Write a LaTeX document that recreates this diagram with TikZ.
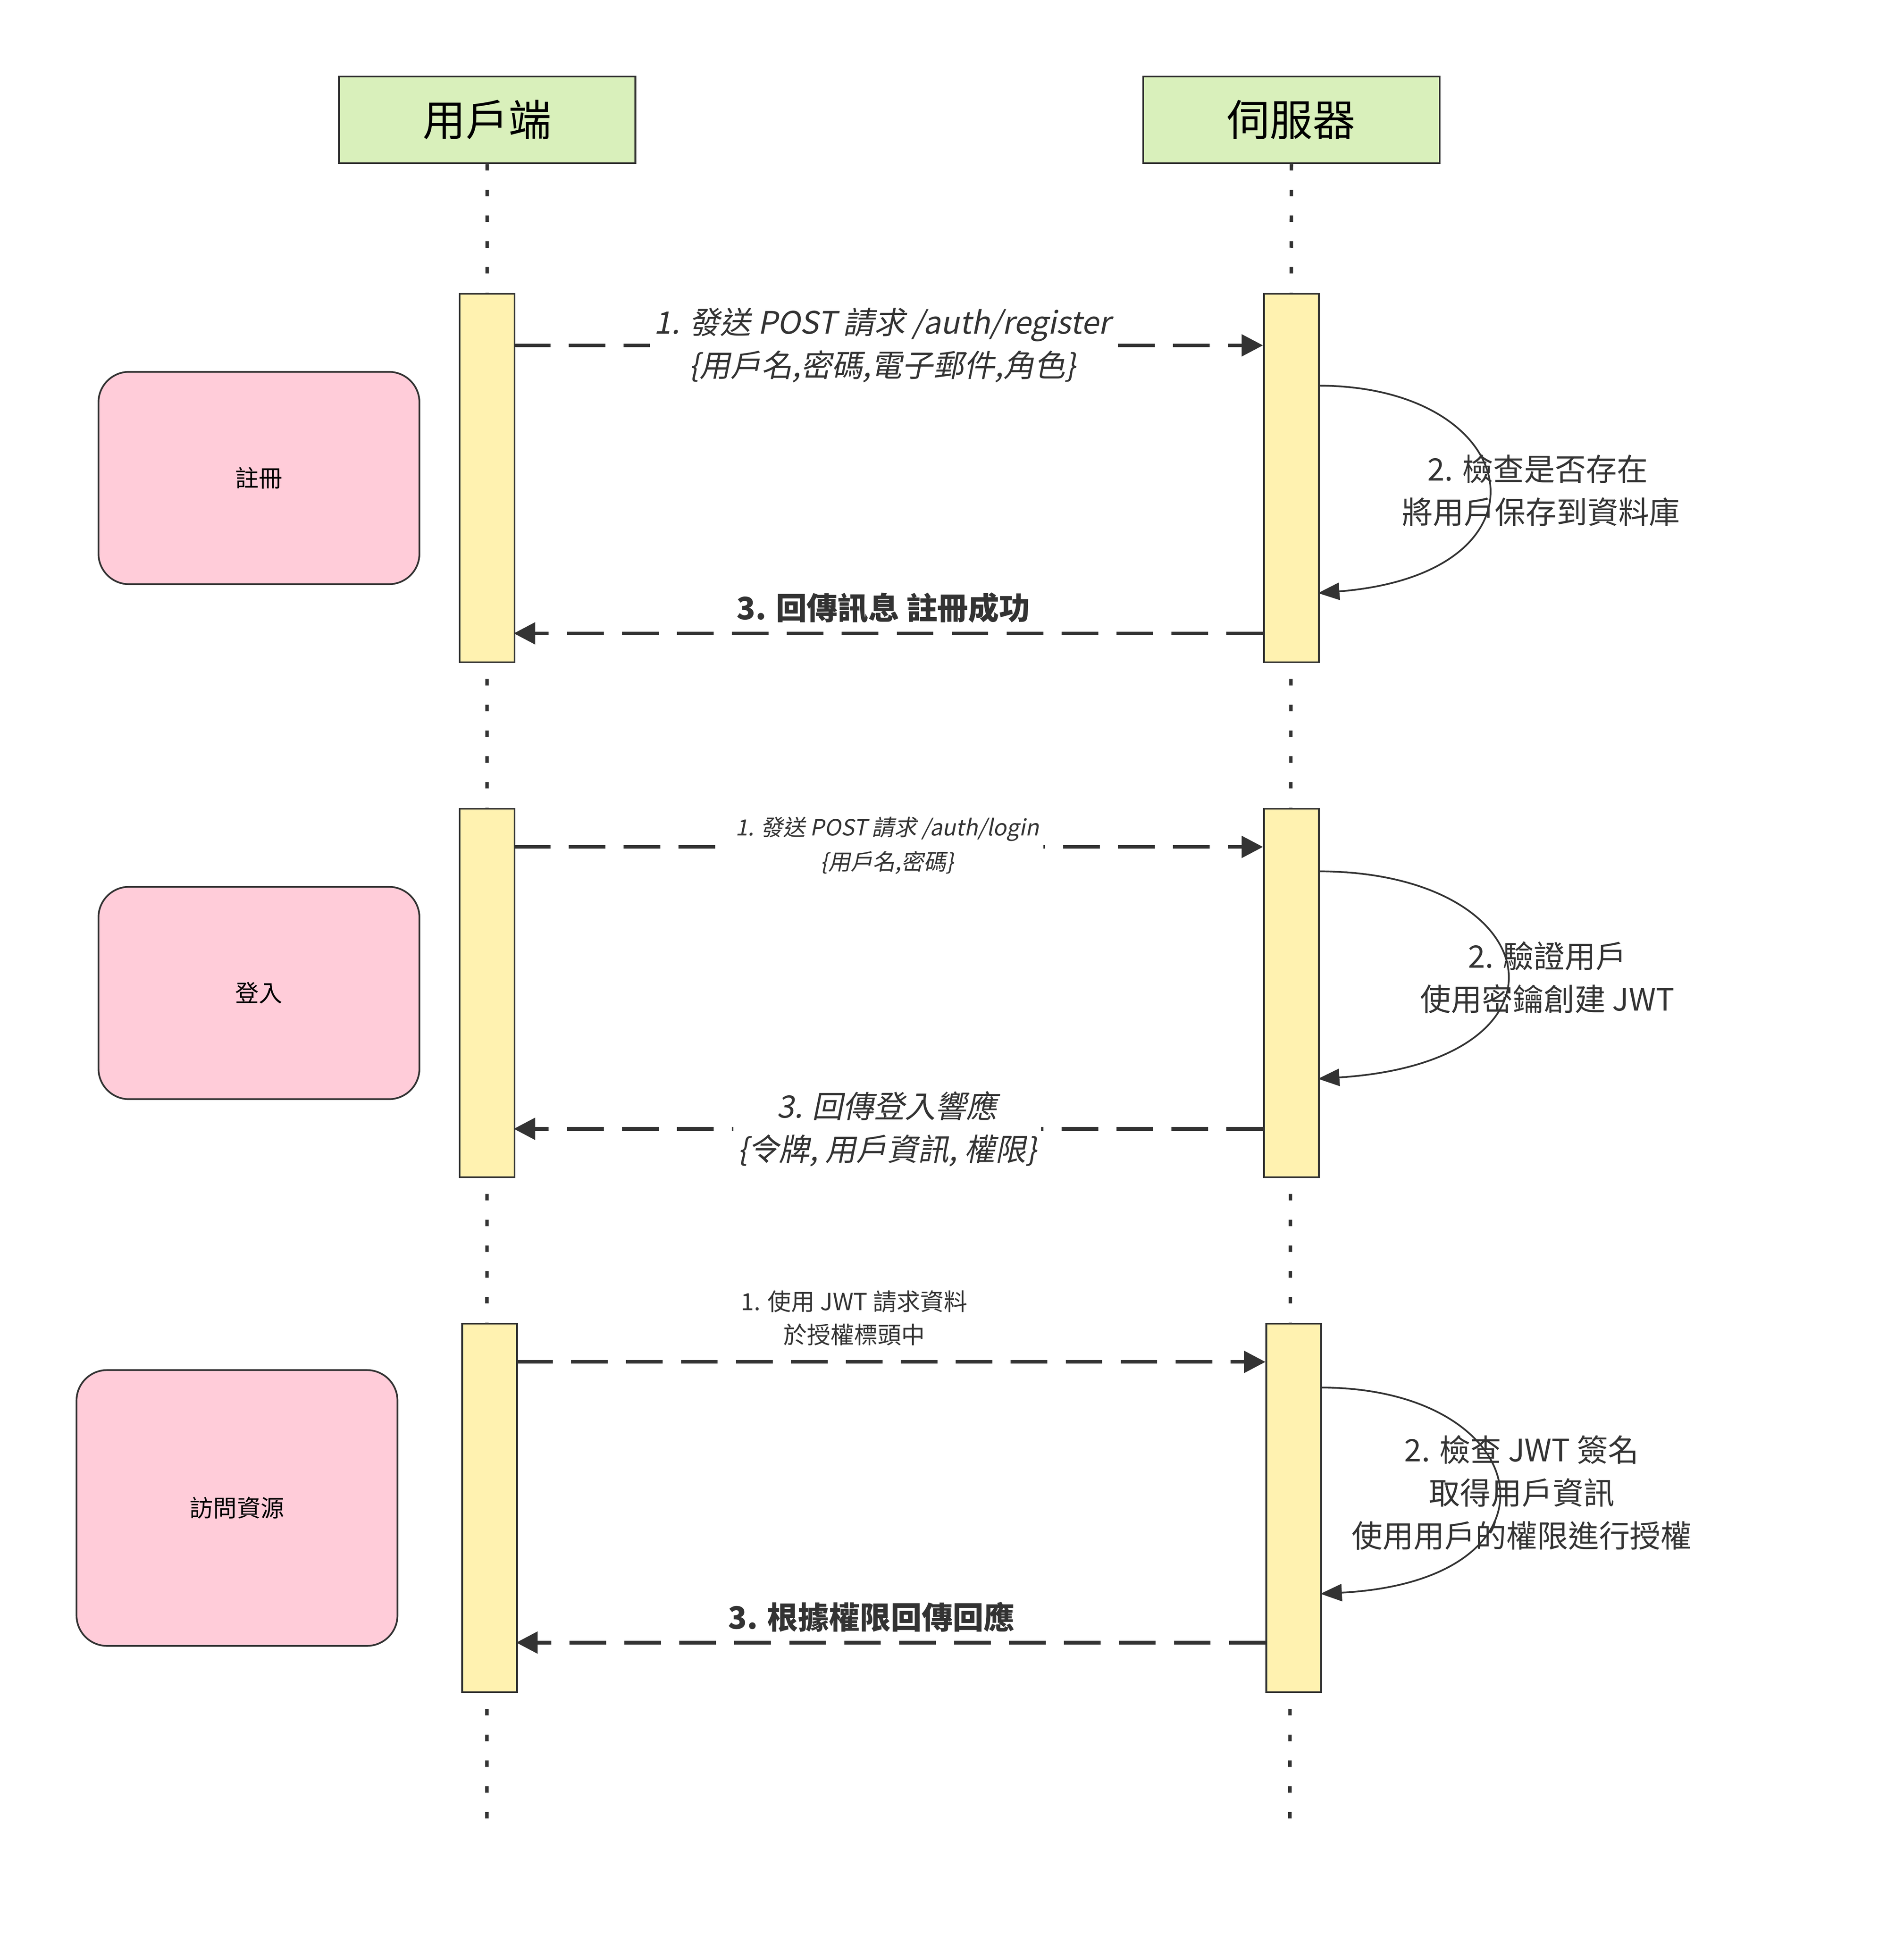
\documentclass[tikz,border=0pt]{standalone}
\usepackage{fontspec}
\setmainfont{Noto Sans CJK TC}
\newfontfamily\cjkit{Noto Sans CJK TC}[FakeSlant=0.2]
\usetikzlibrary{arrows.meta}
\definecolor{hdr}{HTML}{D9F0BB}
\definecolor{act}{HTML}{FFF2B0}
\definecolor{pnk}{HTML}{FFCCD9}
\definecolor{ln}{HTML}{333333}
\begin{document}
\begin{tikzpicture}[x=0.01cm,y=-0.01cm,
 hd/.style={draw=ln,fill=hdr,line width=0.4pt,minimum width=243*0.01cm,minimum height=71*0.01cm,font=\fontsize{10}{12}\selectfont,anchor=north west},
 ac/.style={draw=ln,fill=act,line width=0.4pt,minimum width=45*0.01cm,minimum height=302*0.01cm,anchor=north west,inner sep=0},
 pk/.style={draw=ln,fill=pnk,line width=0.4pt,rounded corners=0.25cm,anchor=north west,font=\fontsize{5.5}{7}\selectfont},
 life/.style={ln,line width=0.8pt,dash pattern=on 1.5pt off 4.5pt},
 msg/.style={ln,line width=0.85pt,dash pattern=on 0.3cm off 0.15cm,-{Triangle[length=5pt,width=5pt]}},
 self/.style={ln,line width=0.4pt,-{Triangle[length=5pt,width=4pt]}},
 lb/.style={fill=white,inner sep=1pt,text=ln,align=center},
 nt/.style={text=ln,align=center,font=\fontsize{7.2}{10}\selectfont}]
\useasboundingbox (0,0) rectangle (1560,1584);
\node[hd] (cl) at (277,62) {用戶端};
\node[hd] (sv) at (936,62) {伺服器};
\coordinate (cle) at (399,1500);
\coordinate (sve) at (1057,1500);
\draw[life] (cl.south) -- (cle);
\draw[life] (sv.south) -- (sve);
% activations
\node[ac] (la1) at (376,240) {}; \node[ac] (ra1) at (1035,240) {};
\node[ac] (la2) at (376,662) {}; \node[ac] (ra2) at (1035,662) {};
\node[ac] (la3) at (378,1084) {}; \node[ac] (ra3) at (1037,1084) {};
% pink
\node[pk,minimum width=263*0.01cm,minimum height=174*0.01cm] (p1) at (80,304) {註冊};
\node[pk,minimum width=263*0.01cm,minimum height=174*0.01cm] (p2) at (80,726) {登入};
\node[pk,minimum width=263*0.01cm,minimum height=226*0.01cm] (p3) at (62,1122) {訪問資源};
% section 1
\coordinate (a1s) at (421,283); \coordinate (a1e) at (1035,283);
\draw[msg] (a1s) -- (a1e);
\node[lb,font=\cjkit\fontsize{7.2}{10}\selectfont] (l1) at (723,283) {1. 發送 POST 請求 /auth/register\\\{用戶名,密碼,電子郵件,角色\}};
\coordinate (s1a) at (1080,316); \coordinate (s1b) at (1080,486);
\draw[self] (s1a) .. controls (1250,316) and (1280,470) .. (s1b);
\node[nt] (n1) at (1260,402) {2. 檢查是否存在\\\ 將用戶保存到資料庫};
\coordinate (r1s) at (1035,519); \coordinate (r1e) at (421,519);
\draw[msg] (r1s) -- (r1e);
\node[text=ln,font=\bfseries\fontsize{7.2}{9}\selectfont] (t1) at (724,498) {3. 回傳訊息 註冊成功};
% section 2
\coordinate (a2s) at (421,694); \coordinate (a2e) at (1035,694);
\draw[msg] (a2s) -- (a2e);
\node[lb,font=\cjkit\fontsize{5.2}{8}\selectfont] (l2) at (727,693) {1. 發送 POST 請求 /auth/login\\\{用戶名,密碼\}};
\coordinate (s2a) at (1080,714); \coordinate (s2b) at (1080,884);
\draw[self] (s2a) .. controls (1270,714) and (1300,870) .. (s2b);
\node[nt] (n2) at (1268,801) {2. 驗證用戶\\使用密鑰創建 JWT};
\coordinate (r2s) at (1035,925); \coordinate (r2e) at (421,925);
\draw[msg] (r2s) -- (r2e);
\node[lb,font=\cjkit\fontsize{7.2}{10}\selectfont] (l3) at (727,925) {3. 回傳登入響應\\\{令牌, 用戶資訊, 權限\}};
% section 3
\coordinate (a3s) at (423,1116); \coordinate (a3e) at (1037,1116);
\draw[msg] (a3s) -- (a3e);
\node[text=ln,align=center,font=\fontsize{5.5}{7.8}\selectfont] (l4) at (700,1080) {1. 使用 JWT 請求資料\\於授權標頭中};
\coordinate (s3a) at (1082,1137); \coordinate (s3b) at (1082,1306);
\draw[self] (s3a) .. controls (1260,1137) and (1290,1295) .. (s3b);
\node[nt] (n3) at (1247,1223) {2. 檢查 JWT 簽名\\取得用戶資訊\\使用用戶的權限進行授權};
\coordinate (r3s) at (1037,1346); \coordinate (r3e) at (423,1346);
\draw[msg] (r3s) -- (r3e);
\node[text=ln,font=\bfseries\fontsize{7.2}{9}\selectfont] (t3) at (714,1325) {3. 根據權限回傳回應};
\end{tikzpicture}
\end{document}
